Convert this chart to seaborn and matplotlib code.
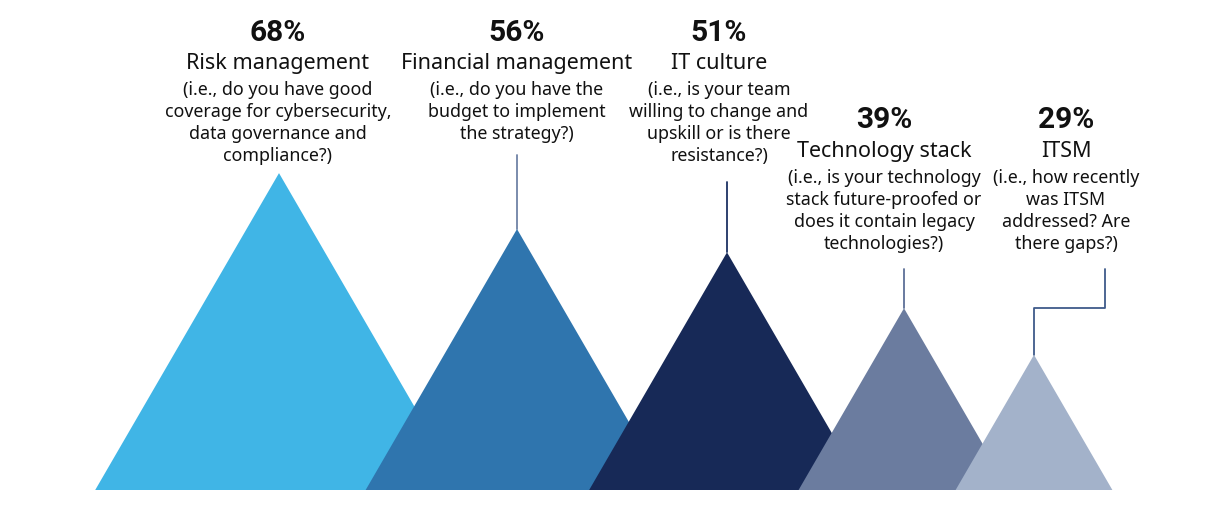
import matplotlib
matplotlib.use("Agg")
import matplotlib.pyplot as plt
import seaborn as sns
import pandas as pd

# ---- data ----
categories = ["Risk management", "Financial management", "IT culture",
              "Technology stack", "ITSM"]
values = [68, 56, 51, 39, 29]
pct_labels = ["68%", "56%", "51%", "39%", "29%"]
descriptions = [
    "(i.e., do you have good\ncoverage for cybersecurity,\ndata governance and\ncompliance?)",
    "(i.e., do you have the\nbudget to implement\nthe strategy?)",
    "(i.e., is your team\nwilling to change and\nupskill or is there\nresistance?)",
    "(i.e., is your technology\nstack future-proofed or\ndoes it contain legacy\ntechnologies?)",
    "(i.e., how recently\nwas ITSM\naddressed? Are\nthere gaps?)",
]

# ---- layout / style ----
colors = ["#40b5e6", "#2f75ae", "#172957", "#6b7c9f", "#a3b2ca"]
line_colors = [None, "#6f82a6", "#1d3263", "#5d7097", "#3f5b8a"]
x_centers = [279, 517, 727, 904, 1034]
text_x = [278, 517, 719, 884, 1066]
pct_base = [41, 41, 41, 128, 128]
title_base = [69, 69, 69, 157, 157]
sub_base = [95, 95, 95, 183, 183]
line_step = 22

sns.set_theme(style="white")
plt.rcParams['font.family'] = ['Noto Sans', 'DejaVu Sans']

W, H, DPI = 1218, 517, 100
fig = plt.figure(figsize=(W / DPI, H / DPI), dpi=DPI)
ax = fig.add_axes([0, 0, 1, 1])
K = 4.66      # pixels per percentage point
BASE = 490    # baseline pixel row
ax.set_xlim(0, W)
ax.set_ylim(-(H - BASE) / K, BASE / K)
ax.axis('off')


def py(p):
    return (BASE - p) / K


df = pd.DataFrame({"category": categories, "value": values,
                   "x": x_centers, "color": colors})

for _, r in df.iterrows():
    hw = r.value * K * 0.58
    ax.fill([r.x - hw, r.x, r.x + hw], [0, r.value, 0],
            color=r.color, lw=0, zorder=2)

# connectors
conn = [
    (1, [517, 517], [values[1], py(155)]),
    (2, [727, 727], [values[2], py(182)]),
    (3, [904, 904], [values[3], py(269)]),
    (4, [1034, 1034, 1105, 1105], [values[4], py(308), py(308), py(269)]),
]
for i, xs, ys in conn:
    sns.lineplot(x=xs, y=ys, sort=False, estimator=None, ax=ax,
                 color=line_colors[i], lw=1.3, zorder=1)

tc = "#111111"
for i in range(len(categories)):
    ax.text(text_x[i], py(pct_base[i]), pct_labels[i], ha='center',
            va='baseline', fontsize=21.5, fontweight='bold', color=tc,
            family=['Roboto', 'DejaVu Sans'])
    ax.text(text_x[i], py(title_base[i]), categories[i], ha='center',
            va='baseline', fontsize=15.5, color=tc)
    for j, line in enumerate(descriptions[i].split("\n")):
        ax.text(text_x[i], py(sub_base[i] + j * line_step), line,
                ha='center', va='baseline', fontsize=12.8, color=tc)

fig.savefig("out.png", dpi=DPI)
